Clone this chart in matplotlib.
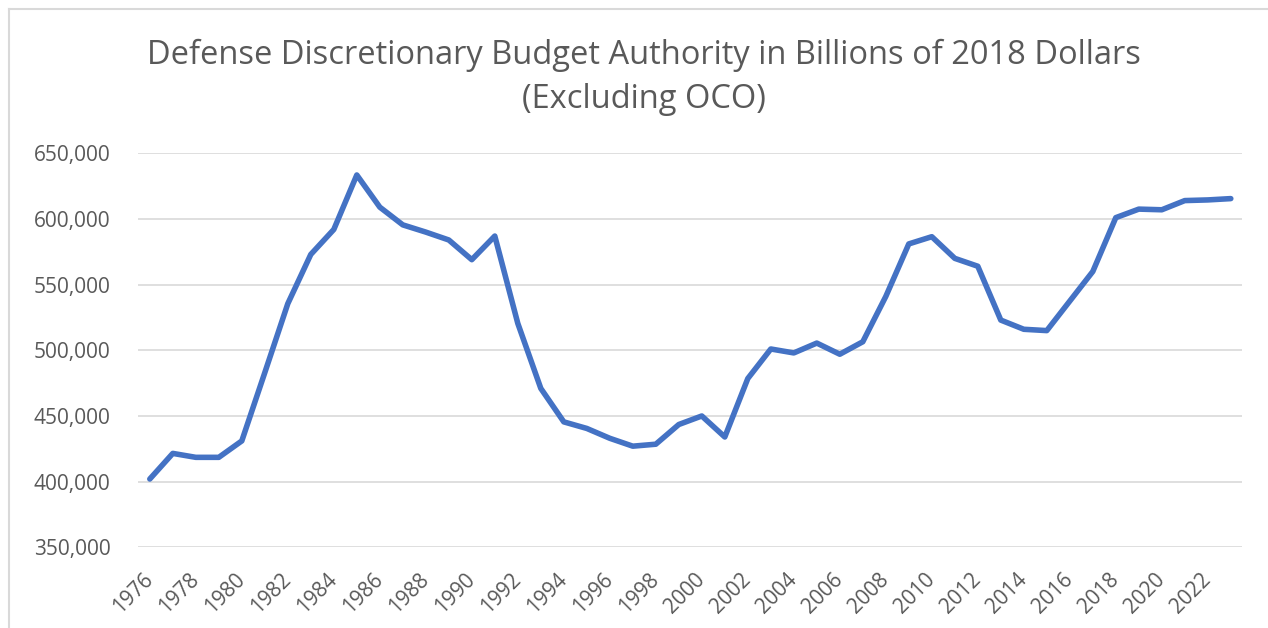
import matplotlib
matplotlib.use("Agg")
import matplotlib.pyplot as plt
from matplotlib.lines import Line2D
from matplotlib.ticker import FuncFormatter, MultipleLocator

# Defense discretionary budget authority, billions of 2018 dollars (excluding OCO)
years = list(range(1976, 2024))
budget = [
    402000, 421500, 418500, 418500, 431000, 483000, 535500, 573000,
    592000, 633500, 609000, 595500, 590000, 584000, 569000, 587000,
    520500, 471000, 445500, 440500, 433000, 427000, 428500, 443500,
    450000, 434000, 478500, 501000, 498000, 505500, 497000, 506500,
    541000, 581000, 586500, 570000, 564000, 523000, 516000, 515000,
    537500, 560000, 601000, 607500, 607000, 614000, 614500, 615500,
]
tick_years = years[::2]
title_lines = [
    "Defense Discretionary Budget Authority in Billions of 2018 Dollars",
    "(Excluding OCO)",
]

TEXT = "#595959"
GRID = "#D9D9D9"
LINE = "#4472C4"
FONT = "Open Sans"

W, H = 1268, 628
fig = plt.figure(figsize=(W / 100, H / 100), dpi=100)
fig.patch.set_facecolor("white")

ax = fig.add_axes([138.3 / W, 1 - 547.3 / H, (1242.3 - 138.3) / W, (547.3 - 153.3) / H])
ax.plot(years, budget, color=LINE, linewidth=4.0,
        solid_capstyle="round", solid_joinstyle="round", zorder=3)

ax.set_xlim(years[0] - 0.5, years[-1] + 0.5)
ax.set_ylim(350000, 650000)
ax.yaxis.set_major_locator(MultipleLocator(50000))
ax.yaxis.set_major_formatter(FuncFormatter(lambda v, _: f"{int(v):,}"))
ax.grid(axis="y", color=GRID, linewidth=1.2, zorder=0)
ax.set_axisbelow(True)

ax.set_xticks(tick_years)
ax.set_xticklabels([str(y) for y in tick_years], rotation=45, ha="right",
                   va="center", rotation_mode="anchor")
ax.tick_params(axis="x", length=0, pad=21, labelsize=15, labelcolor=TEXT)
ax.tick_params(axis="y", length=0, pad=20, labelsize=15, labelcolor=TEXT)
for lbl in ax.get_xticklabels() + ax.get_yticklabels():
    lbl.set_fontfamily(FONT)

for side in ["top", "right", "left", "bottom"]:
    ax.spines[side].set_visible(False)
ax.set_facecolor("white")

# Title, two centred lines
fig.text(644 / W, 1 - 64 / H, title_lines[0], ha="center", va="baseline",
         fontsize=23.5, color=TEXT, fontfamily=FONT)
fig.text(644 / W, 1 - 108 / H, title_lines[1], ha="center", va="baseline",
         fontsize=23.5, color=TEXT, fontfamily=FONT)

# Chart-area border along the top and left edges
fig.add_artist(Line2D([8.5 / W, 8.5 / W], [0, 1 - 8.5 / H], transform=fig.transFigure,
                      color=GRID, linewidth=1.5))
fig.add_artist(Line2D([8.5 / W, 1], [1 - 8.5 / H, 1 - 8.5 / H], transform=fig.transFigure,
                      color=GRID, linewidth=1.5))

fig.savefig("out.png", dpi=100, facecolor="white")
